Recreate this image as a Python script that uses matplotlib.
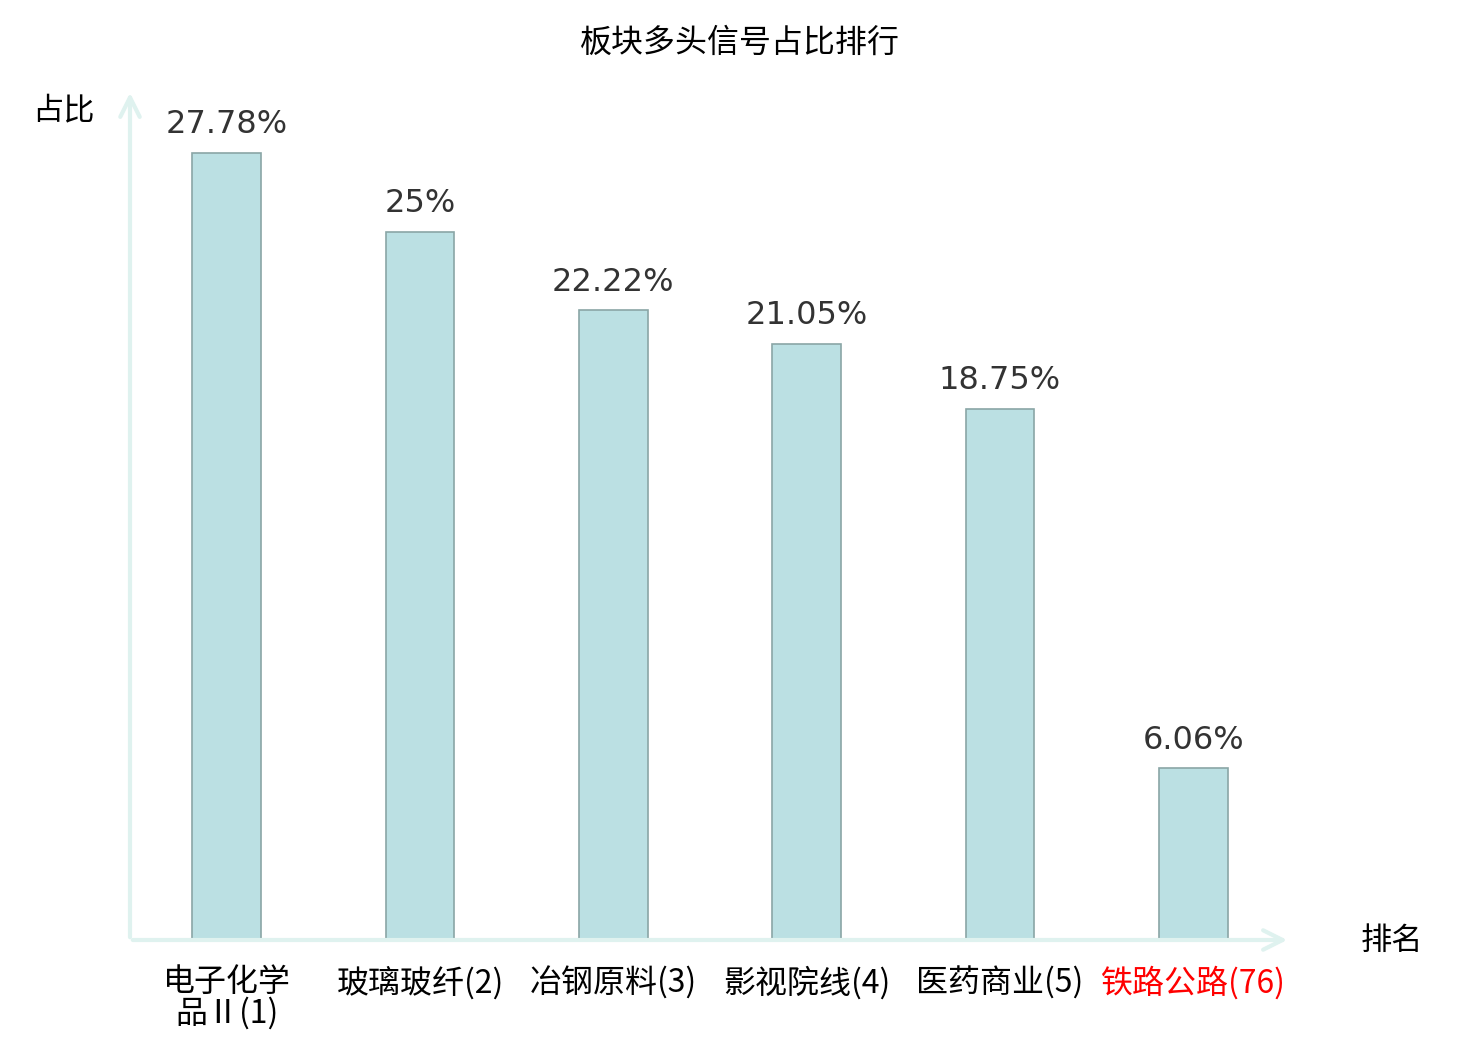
import matplotlib.pyplot as plt

plt.rcParams['font.family'] = ['Noto Sans CJK SC', 'DejaVu Sans']

# 板块名称(排名) 和 多头信号占比
categories = ["电子化学\n品Ⅱ(1)", "玻璃玻纤(2)", "冶钢原料(3)", "影视院线(4)", "医药商业(5)", "铁路公路(76)"]
values = [27.78, 25.0, 22.22, 21.05, 18.75, 6.06]
value_labels = ["27.78%", "25%", "22.22%", "21.05%", "18.75%", "6.06%"]
label_colors = ["black", "black", "black", "black", "black", "red"]

fig = plt.figure(figsize=(14.8, 10.4), dpi=100)
ax = fig.add_axes([130 / 1480, 100 / 1040, 1160 / 1480, 850 / 1040])

x = list(range(len(categories)))
bars = ax.bar(x, values, width=0.355, color='#bbe0e3', edgecolor='#8aa6a6', linewidth=1.2, zorder=2)

for xi, v, lab in zip(x, values, value_labels):
    ax.annotate(lab, (xi, v), xytext=(0, 9), textcoords='offset points',
                ha='center', va='bottom', fontsize=23, color='#333333',
                family=['DejaVu Sans'])

ax.set_xlim(-0.5, 5.5)
ax.set_ylim(0, 30)
ax.set_xticks(x)
ax.set_xticklabels(categories, fontsize=23, linespacing=0.95)
for t, c in zip(ax.get_xticklabels(), label_colors):
    t.set_color(c)
ax.tick_params(axis='x', length=0, pad=19)
ax.set_yticks([])
for s in ax.spines.values():
    s.set_visible(False)

# 坐标轴箭头
axis_color = '#dff2ef'
ax.annotate('', xy=(1.0, 0), xytext=(0, 0), xycoords='axes fraction',
            arrowprops=dict(arrowstyle='->', color=axis_color, lw=3, mutation_scale=35))
ax.annotate('', xy=(0, 1.0), xytext=(0, 0), xycoords='axes fraction',
            arrowprops=dict(arrowstyle='->', color=axis_color, lw=3, mutation_scale=35))

fig.text(740 / 1480, 1 - 43 / 1040, "板块多头信号占比排行", ha='center', va='center', fontsize=23)
fig.text(63 / 1480, 1 - 110 / 1040, "占比", ha='center', va='center', fontsize=22.5)
fig.text(1392 / 1480, 1 - 941 / 1040, "排名", ha='center', va='center', fontsize=22.5)

fig.savefig('out.png', dpi=100)
